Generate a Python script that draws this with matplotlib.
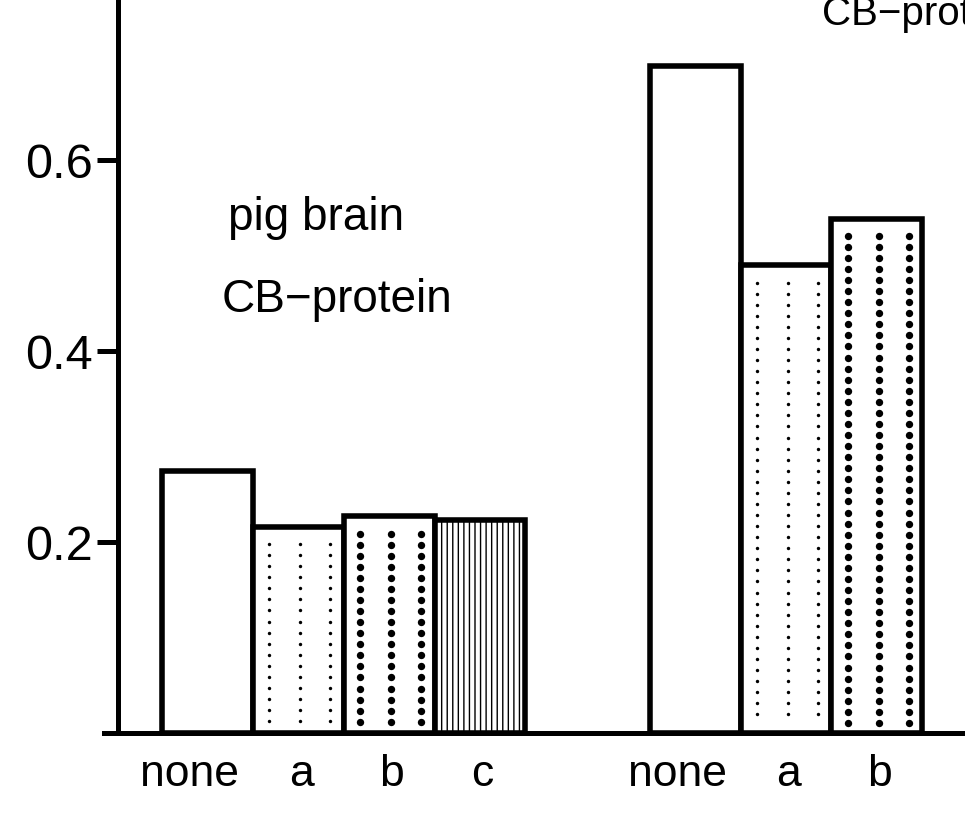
import numpy as np
import matplotlib.pyplot as plt

plt.rcParams['font.family'] = ['Liberation Sans', 'DejaVu Sans']
plt.rcParams['hatch.linewidth'] = 1.0

# values
labels1 = ['none', 'a', 'b', 'c']
values1 = [0.274, 0.216, 0.227, 0.223]
labels2 = ['none', 'a', 'b']
values2 = [0.699, 0.490, 0.539]
fills1 = ['none', 'small', 'big', 'lines']
fills2 = ['none', 'small', 'big']

x1 = np.arange(4)
x2 = np.arange(3) + 5.37
width = 1.0

fig = plt.figure(figsize=(9.65, 8.25), dpi=100)
ax = fig.add_axes([118 / 965, 92 / 825, 1 - 118 / 965, 733 / 825])

def draw_bars(xs, vals, fills, labels):
    for x, v, f, lab in zip(xs, vals, fills, labels):
        hatch = '|||' if f == 'lines' else None
        ax.bar(x, v, width=width, facecolor='white', edgecolor='black',
               linewidth=4, hatch=hatch, zorder=2)
        if f in ('small', 'big'):
            size = 6 if f == 'small' else 28
            ys = np.arange(v - 0.018, 0.008, -0.0116)
            for fr in (-0.32, 0.02, 0.35):
                ax.scatter(np.full(len(ys), x + fr * width), ys, s=size,
                           color='black', linewidths=0, zorder=3)
        # "none" labels sit a little left of their bars
        shift = -0.2 if lab == 'none' else 0.03
        ax.text(x + shift, -0.043, lab, fontsize=32, ha='center', va='center')

draw_bars(x1, values1, fills1, labels1)
draw_bars(x2, values2, fills2, labels2)

ax.set_xlim(-0.986, 8.34)
ax.set_ylim(0, 0.768)

for s in ('top', 'right', 'bottom'):
    ax.spines[s].set_visible(False)
ax.spines['left'].set_linewidth(3.6)
ax.plot([-0.016, 1], [0, 0], transform=ax.transAxes, color='black',
        linewidth=3.6, clip_on=False, zorder=4)

ax.set_yticks([0.2, 0.4, 0.6])
ax.set_yticklabels(['0.2', '0.4', '0.6'], fontsize=35)
ax.tick_params(axis='y', length=15, width=3.6, pad=3)
ax.set_xticks([])

ax.text(228 / 965, 1 - 218 / 825, 'pig brain', fontsize=33,
        transform=fig.transFigure, va='center', ha='left')
ax.text(222 / 965, 1 - 300 / 825, 'CB\u2212protein', fontsize=33,
        transform=fig.transFigure, va='center', ha='left')
# the top-right label runs off the edge in the reference
ax.text(822 / 965, 1 - 14 / 825, 'CB\u2212protein', fontsize=29,
        transform=fig.transFigure, va='center', ha='left')

fig.savefig('out.png', dpi=100)
